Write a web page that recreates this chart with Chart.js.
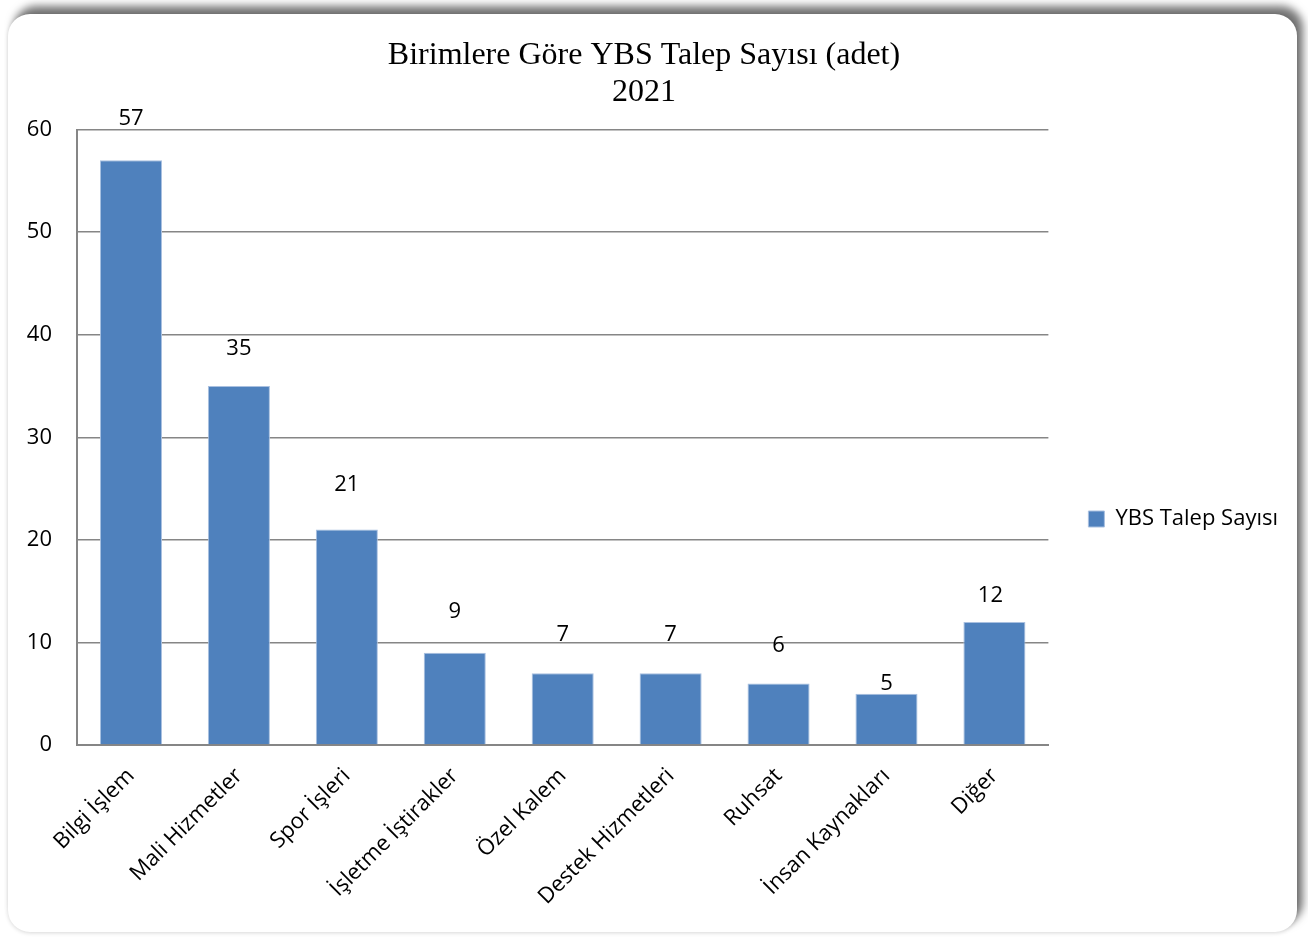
<!DOCTYPE html>
<html lang="tr">
<head>
<meta charset="utf-8">
<title>Birimlere Göre YBS Talep Sayısı</title>
<script src="https://cdn.jsdelivr.net/npm/chart.js@4/dist/chart.umd.min.js"></script>
<style>
    html, body {
        margin: 0;
        padding: 0;
        background: #ffffff;
        overflow: hidden;
        width: 1308px;
        height: 937px;
    }
    #frame {
        position: absolute;
        left: 8px;
        top: 14px;
        width: 1289px;
        height: 918px;
        border-radius: 22px;
        background: #ffffff;
        box-shadow: 6px -8px 8px rgba(0, 0, 0, 0.55), 0 1px 4px rgba(0, 0, 0, 0.15);
    }
    #wrap {
        position: absolute;
        left: 0;
        top: 0;
        width: 1296px;
        height: 1038px;
    }
</style>
</head>
<body>
<div id="frame"></div>
<div id="wrap"><canvas id="chart"></canvas></div>
<script>
// Talep sayıları, birim bazında (2021)
const birimler = [
    'Bilgi İşlem',
    'Mali Hizmetler',
    'Spor İşleri',
    'İşletme İştirakler',
    'Özel Kalem',
    'Destek Hizmetleri',
    'Ruhsat',
    'İnsan Kaynakları',
    'Diğer'
];
const talepSayilari = [57, 35, 21, 9, 7, 7, 6, 5, 12];
const seriAdi = 'YBS Talep Sayısı';
const baslik = ['Birimlere Göre YBS Talep Sayısı (adet)', '2021'];
const yTicks = [0, 10, 20, 30, 40, 50, 60];

// value labels sit a little above each bar (dx, dy in px)
const labelOffsets = [[0, 42], [0, 37], [0, 45], [0, 41], [0, 38], [0, 38], [0, 38], [0, 10], [-4, 26]];

const uiFont = '"Open Sans", Lato, sans-serif';
const barColor = '#4F81BD';
const lineColor = '#868686';

const valueLabels = {
    id: 'valueLabels',
    afterDatasetsDraw(chart) {
        const ctx = chart.ctx;
        const meta = chart.getDatasetMeta(0);
        ctx.save();
        ctx.font = '22px ' + uiFont;
        ctx.fillStyle = '#000000';
        ctx.textAlign = 'center';
        ctx.textBaseline = 'middle';
        meta.data.forEach((bar, i) => {
            const [dx, dy] = labelOffsets[i];
            ctx.fillText(String(talepSayilari[i]), bar.x + dx, bar.y - dy);
        });
        ctx.restore();
    }
};

const chart = new Chart(document.getElementById('chart'), {
    type: 'bar',
    data: {
        labels: birimler,
        datasets: [{
            label: seriAdi,
            data: talepSayilari,
            backgroundColor: barColor,
            borderColor: '#a9c0e0',
            borderWidth: 1,
            borderSkipped: 'bottom',
            barPercentage: 0.575,
            categoryPercentage: 1,
        }],
    },
    options: {
        responsive: true,
        maintainAspectRatio: false,
        animation: false,
        layout: {
            padding: { left: 0, right: 8, top: 0, bottom: 0 },
        },
        plugins: {
            title: {
                display: true,
                text: baslik,
                color: '#000000',
                font: { family: '"Liberation Serif", "Times New Roman", serif', size: 32, weight: 'normal', lineHeight: 1.15 },
                padding: { top: 37, bottom: 19 },
            },
            legend: {
                display: true,
                position: 'right',
                align: 'center',
                labels: {
                    color: '#000000',
                    font: { family: uiFont, size: 22 },
                    boxWidth: 16,
                    boxHeight: 16,
                    padding: 40,
                },
            },
            tooltip: { enabled: false },
        },
        scales: {
            x: {
                grid: { display: false, drawTicks: false },
                border: { display: true, color: lineColor, width: 2 },
                ticks: {
                    color: '#000000',
                    font: { family: uiFont, size: 22 },
                    minRotation: 45,
                    maxRotation: 45,
                    autoSkip: false,
                    padding: 18,
                },
                afterFit: (scale) => { scale.height = 293; },
            },
            y: {
                min: 0,
                max: 60,
                afterBuildTicks: (scale) => { scale.ticks = yTicks.map(v => ({ value: v })); },
                grid: { color: lineColor, lineWidth: 1.5, drawTicks: false },
                border: { display: true, color: lineColor, width: 2 },
                ticks: {
                    color: '#000000',
                    font: { family: uiFont, size: 22 },
                    padding: 25,
                },
                afterFit: (scale) => { scale.width = 77; },
            },
        },
    },
    plugins: [valueLabels],
});
</script>
</body>
</html>
